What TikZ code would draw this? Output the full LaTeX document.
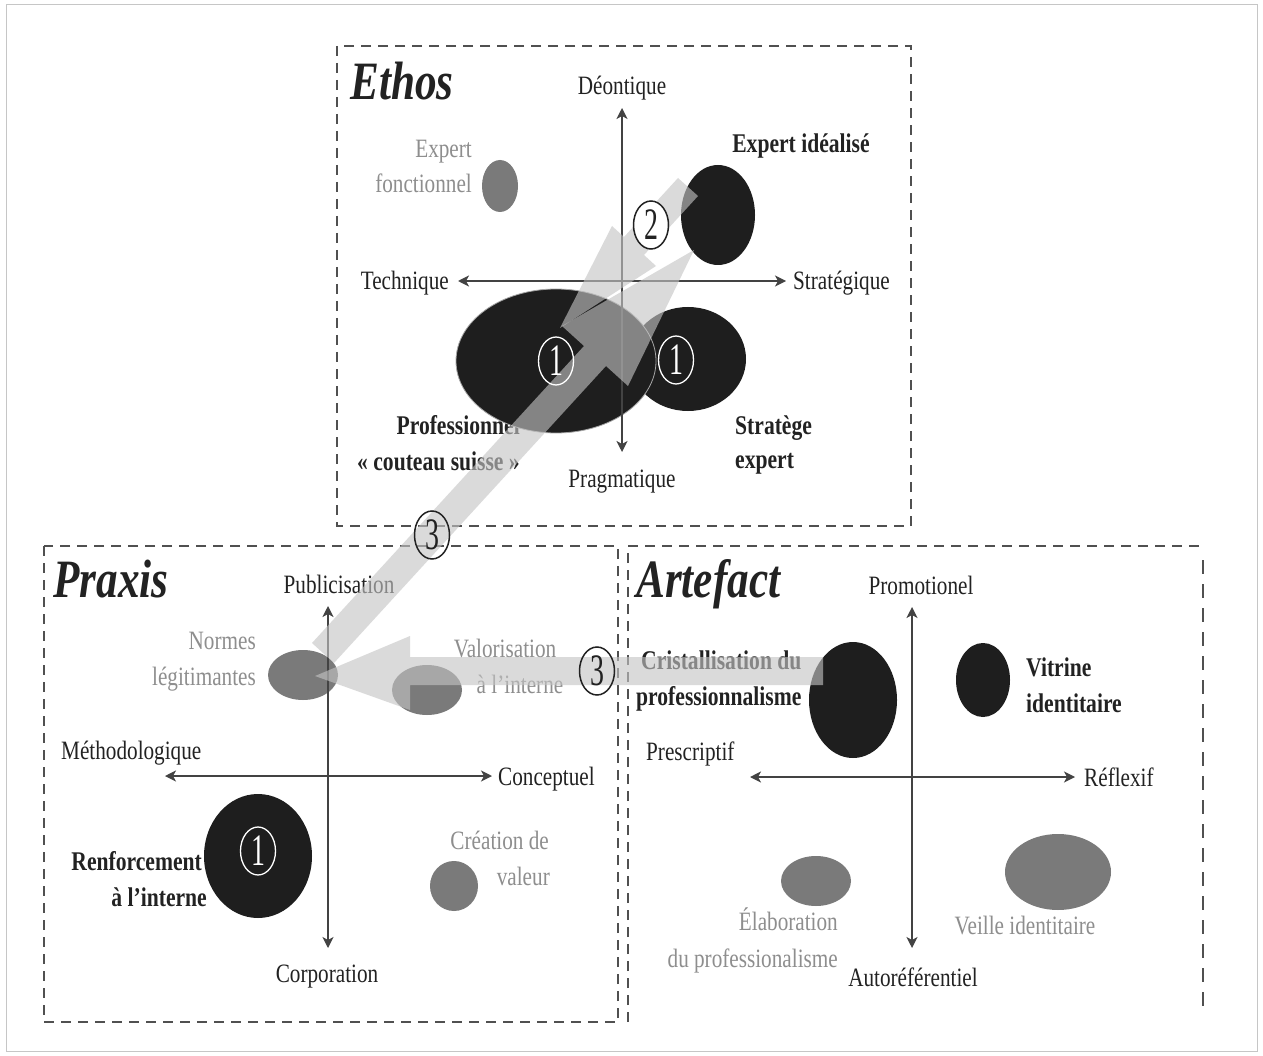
\documentclass[tikz,border=0pt]{standalone}
\usepackage{fontspec}
\setmainfont{Liberation Serif}[FakeStretch=0.8]
\newfontfamily\digfont{Liberation Serif}[FakeStretch=0.62]
\usetikzlibrary{shapes.geometric,arrows.meta}
\definecolor{blk}{HTML}{1E1E1E}
\definecolor{gel}{HTML}{7A7A7A}
\definecolor{gtx}{HTML}{8E8E8E}
\definecolor{txt}{HTML}{222222}
\definecolor{arw}{HTML}{C4C4C4}
\definecolor{dsh}{HTML}{505050}
\begin{document}
\begin{tikzpicture}[x=1pt,y=-1pt,
  lbl/.style={font=\fontsize{26.5}{28}\selectfont, text=txt, inner sep=0pt, text height=18pt, text depth=6pt, yshift=-3pt},
  bl/.style={lbl, font=\fontsize{27}{29}\selectfont\bfseries},
  gl/.style={lbl, text=gtx},
  ttl/.style={font=\fontsize{54}{56}\selectfont\bfseries\itshape, text=txt, inner sep=0pt, anchor=base west},
  bell/.style={ellipse, fill=blk, inner sep=0pt},
  gell/.style={ellipse, fill=gel, inner sep=0pt},
  cnum/.style={ellipse, draw=txt, line width=1.5pt, minimum width=35pt, minimum height=48pt, inner sep=0pt, font=\digfont\fontsize{45}{45}\selectfont, text=txt},
  wnum/.style={cnum, draw=white, line width=1.3pt, text=white},
  dbox/.style={draw=dsh, line width=1.8pt, dash pattern=on 10pt off 7pt},
  axis/.style={draw=txt!85, line width=1.4pt, {Stealth[length=11pt,width=11pt,inset=3pt]}-{Stealth[length=11pt,width=11pt,inset=3pt]}},
  barrow/.style={fill=arw, opacity=0.62}
]
\useasboundingbox (0,0) rectangle (1263,1056);
\fill[white] (0,0) rectangle (1263,1056);
\draw[draw=gray!45, line width=1pt] (6,5) rectangle (1257,1051);

% boxes
\draw[dbox] (337,46) rectangle (911,526);
\draw[dbox] (44,546) rectangle (618,1022);
\draw[dbox] (628,1022) -- (628,546) -- (1203,546);
\draw[dbox, line width=2.6pt, dash pattern=on 14pt off 10pt] (1203,560) -- (1203,1012);

% ---------- Ethos texts
\node[ttl] (tE) at (350,100) {Ethos};
\node[lbl] (tDe) at (622,86) {Déontique};
\node[bl] (tEI) at (801,144) {Expert idéalisé};
\node[gl, anchor=east] (tEF1) at (472,149) {Expert};
\node[gl, anchor=east] (tEF2) at (472,184) {fonctionnel};
\node[lbl, anchor=east] (tTe) at (449,281) {Technique};
\node[lbl, anchor=west] (tSt) at (793,281) {Stratégique};
\node[bl, anchor=east] (tPr1) at (520,425) {Professionnel};
\node[bl, anchor=east] (tPr2) at (520,461) {« couteau suisse »};
\node[bl, anchor=west] (tSe1) at (735,425) {Stratège};
\node[bl, anchor=west] (tSe2) at (735,459) {expert};
\node[lbl] (tPg) at (622,478) {Pragmatique};

% ---------- Praxis texts
\node[ttl] (tP) at (53,597) {Praxis};
\node[lbl] (tPub) at (339,584) {Publicisation};
\node[gl, anchor=east] (tNo1) at (256,640) {Normes};
\node[gl, anchor=east] (tNo2) at (256,676) {légitimantes};
\node[gl] (tVa1) at (505,648) {Valorisation};
\node[gl] (tVa2) at (520,684) {à l'interne};
\node[lbl, anchor=west] (tMe) at (61,750) {Méthodologique};
\node[lbl, anchor=west] (tCo) at (498,776) {Conceptuel};
\node[bl, anchor=east] (tRe1) at (202,861) {Renforcement};
\node[bl, anchor=east] (tRe2) at (207,897) {à l'interne};
\node[gl, anchor=east] (tCr1) at (549,840) {Création de};
\node[gl, anchor=east] (tCr2) at (550,876) {valeur};
\node[lbl] (tCp) at (327,973) {Corporation};

% ---------- Artefact texts
\node[ttl] (tA) at (636,597) {Artefact};
\node[lbl] (tPm) at (921,585) {Promotionel};
\node[bl, anchor=west] (tCi1) at (641,660) {Cristallisation du};
\node[bl, anchor=west] (tCi2) at (636,696) {professionnalisme};
\node[bl, anchor=west] (tVi1) at (1026,667) {Vitrine};
\node[bl, anchor=west] (tVi2) at (1026,703) {identitaire};
\node[lbl, anchor=west] (tPs) at (646,751) {Prescriptif};
\node[lbl, anchor=west] (tRf) at (1084,777) {Réflexif};
\node[gl, anchor=east] (tEl1) at (838,921) {Élaboration};
\node[gl, anchor=east] (tEl2) at (838,958) {du professionalisme};
\node[gl] (tVe) at (1025,925) {Veille identitaire};
\node[lbl] (tAu) at (913,977) {Autoréférentiel};

% ---------- ellipses
\node[bell, minimum width=116pt, minimum height=104pt] (eSE) at (688,359) {};
\node[bell, draw=gray!70, line width=0.8pt, minimum width=200pt, minimum height=144pt] (ePC) at (556,361) {};
\node[bell, minimum width=74pt, minimum height=100pt] (eEI) at (718,215) {};
\node[gell, minimum width=36pt, minimum height=52pt] (eEF) at (500,186) {};
\node[gell, minimum width=70pt, minimum height=50pt] (eNL) at (303,675) {};
\node[gell, minimum width=70pt, minimum height=50pt] (eVI) at (427,690) {};
\node[bell, minimum width=108pt, minimum height=124pt] (eRI) at (258,856) {};
\node[gell, minimum width=48pt, minimum height=50pt] (eCV) at (454,886) {};
\node[bell, minimum width=88pt, minimum height=116pt] (eCP) at (853,700) {};
\node[bell, minimum width=54pt, minimum height=74pt] (eVT) at (983,680) {};
\node[gell, minimum width=70pt, minimum height=50pt] (eEP) at (816,881) {};
\node[gell, minimum width=106pt, minimum height=76pt] (eVE) at (1058,872) {};

% ---------- axes
\coordinate (eN) at (622,108); \coordinate (eS) at (622,452);
\coordinate (eW) at (458,281); \coordinate (eE) at (786,281);
\coordinate (pN) at (328,606); \coordinate (pS) at (328,948);
\coordinate (pW) at (165,776); \coordinate (pE) at (492,776);
\coordinate (aN) at (912,607); \coordinate (aS) at (912,948);
\coordinate (aW) at (750,777); \coordinate (aE) at (1075,777);
\draw[axis] (eN) -- (eS);
\draw[axis] (eW) -- (eE);
\draw[axis] (pN) -- (pS);
\draw[axis] (pW) -- (pE);
\draw[axis] (aN) -- (aS);
\draw[axis] (aW) -- (aE);

% ---------- translucent block arrows
% (3) Normes legitimantes -> Expert idealise
\fill[barrow] (312,643) -- (584,346) -- (562,326) -- (694,250) -- (628,386) -- (606,366) -- (334,663) -- cycle;
% (2) Expert idealise -> Professionnel
\fill[barrow] (678,178) -- (624,237) -- (612,226) -- (560,328) -- (656,266) -- (644,255) -- (698,196) -- cycle;
% (3) Cristallisation -> Normes legitimantes
\fill[barrow] (823,657) -- (410,657) -- (410,636) -- (315,676) -- (410,710) -- (410,685) -- (823,685) -- cycle;

% ---------- circled numbers
\node[wnum] (n1a) at (556,361) {1};
\node[wnum] (n1b) at (676,360) {1};
\node[cnum, fill=white] (n2) at (651,225) {2};
\node[cnum] (n3a) at (432,535) {3};
\node[cnum] (n3b) at (597,671) {3};
\node[wnum] (n1c) at (258,851) {1};
\end{tikzpicture}
\end{document}
